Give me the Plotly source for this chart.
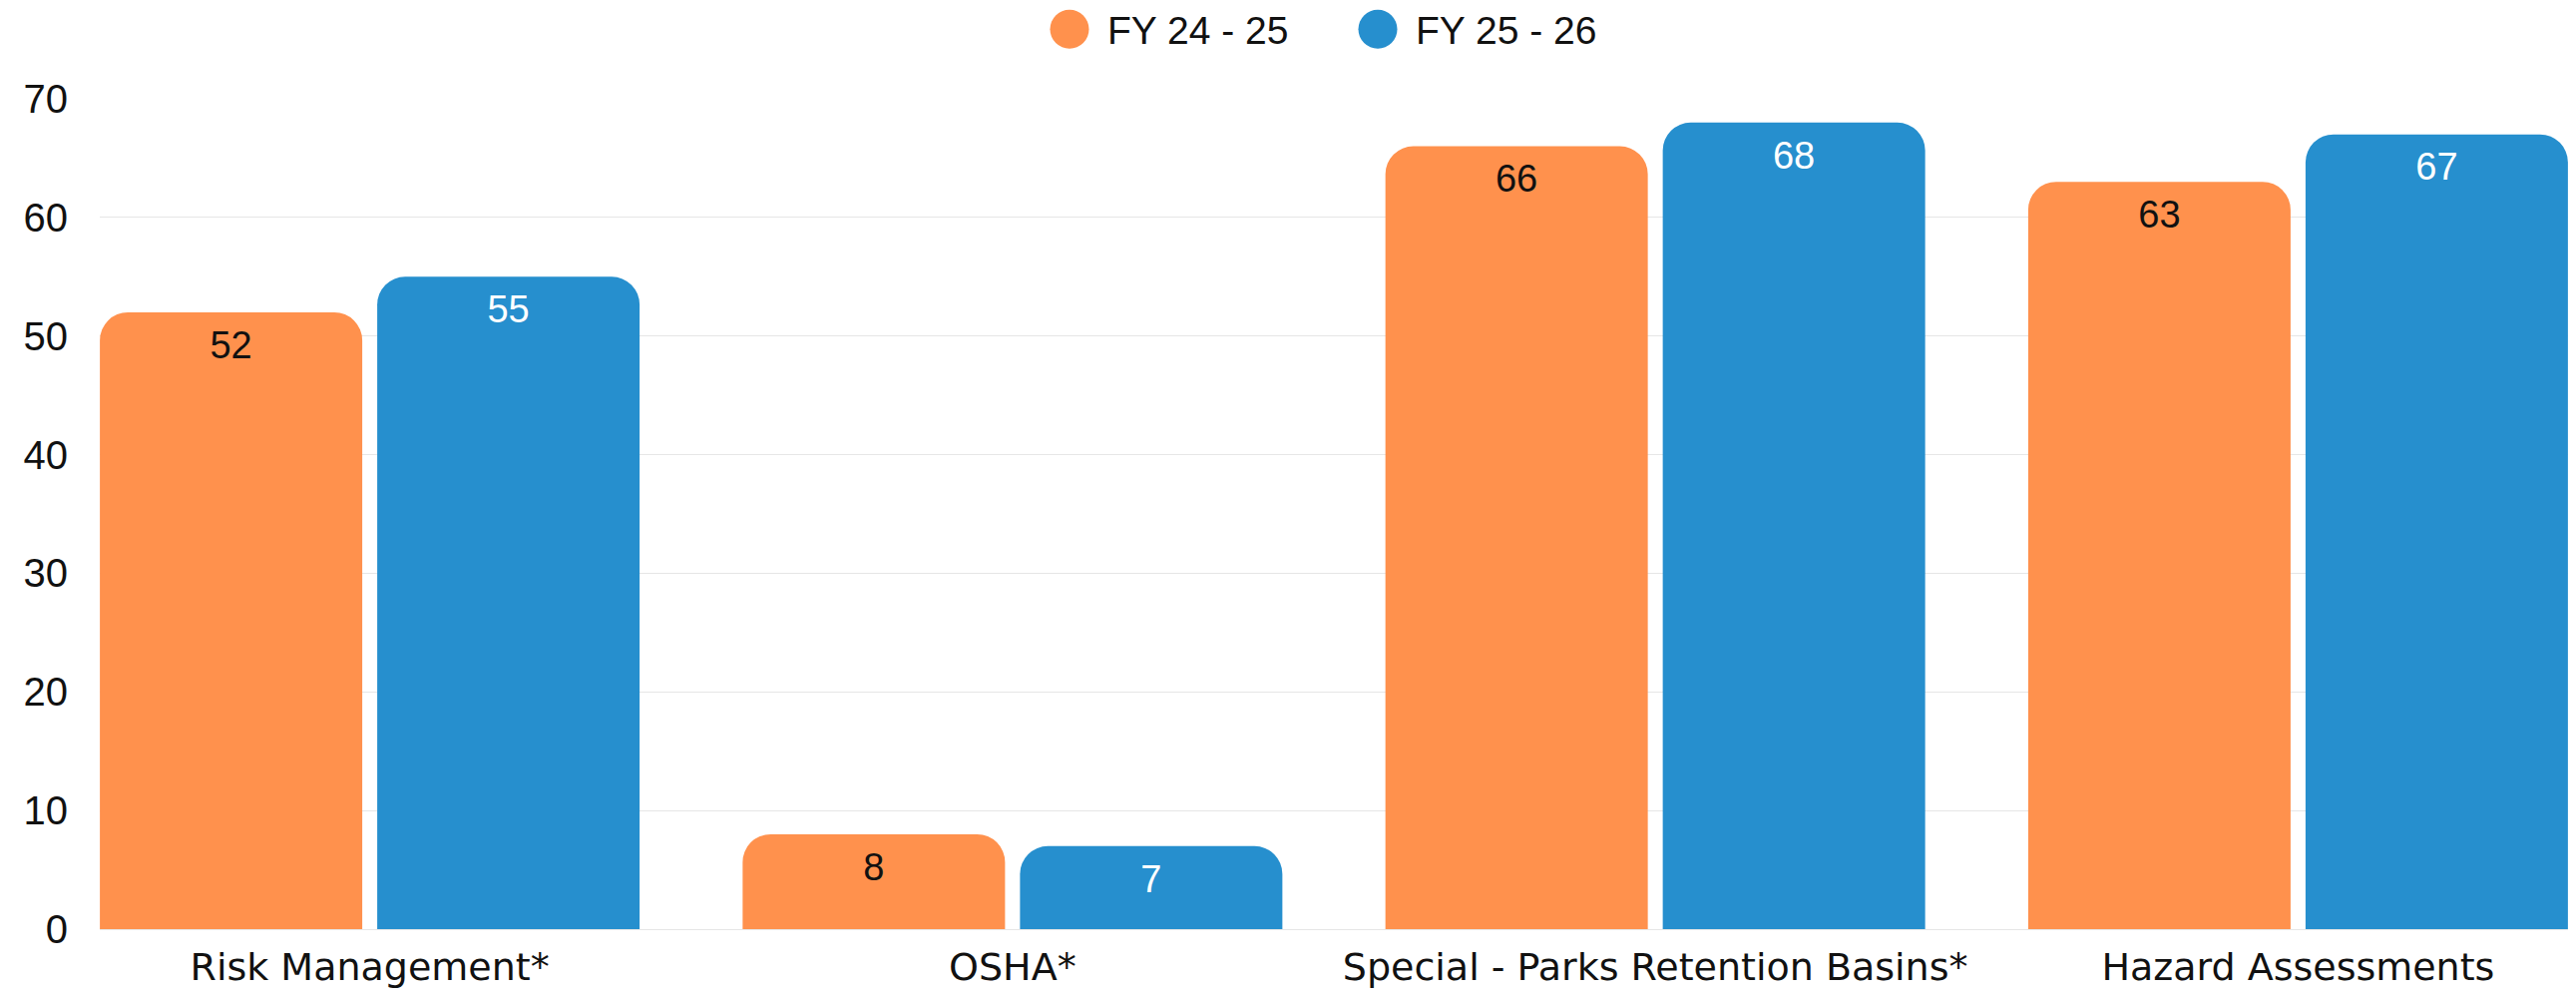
import plotly.graph_objects as go

categories = ["Risk Management*", "OSHA*", "Special - Parks Retention Basins*", "Hazard Assessments"]
series_names = ["FY 24 - 25", "FY 25 - 26"]
fy_24_25 = [52, 8, 66, 63]
fy_25_26 = [55, 7, 68, 67]
y_ticks = [0, 10, 20, 30, 40, 50, 60, 70]

ORANGE = "#FF914D"
BLUE = "#268FCE"
LABEL_COLORS = ["#111111", "#ffffff"]

# page body has an 8px margin; size the figure so the plot lands where the reference has it
BODY = 8
W, H = 2582 - 2 * BODY, 999 - 2 * BODY
ML, MR, MT, MB = 92, 0, 91, 56
PW, PH = W - ML - MR, H - MT - MB

BARGAP = 0.137
BARGROUPGAP = 0.054

fig = go.Figure()
for name, vals, col, grp in [(series_names[0], fy_24_25, ORANGE, "a"),
                             (series_names[1], fy_25_26, BLUE, "b")]:
    fig.add_trace(go.Bar(
        x=categories, y=vals, name=name, offsetgroup=grp, alignmentgroup="g",
        marker=dict(color=col, cornerradius=28, line=dict(width=0)),
        showlegend=False, hoverinfo="x+y+name",
    ))

# value labels, grouped so they sit centred on their bars
for name, vals, tcol, grp in [(series_names[0], fy_24_25, LABEL_COLORS[0], "a"),
                              (series_names[1], fy_25_26, LABEL_COLORS[1], "b")]:
    fig.add_trace(go.Scatter(
        x=categories, y=vals, name=name, offsetgroup=grp, alignmentgroup="g",
        mode="markers+text", text=[str(v) for v in vals], textposition="bottom center",
        marker=dict(size=26, opacity=0),
        textfont=dict(family="Liberation Sans, Arial, sans-serif", size=38, color=tcol),
        showlegend=False, hoverinfo="skip", cliponaxis=False,
    ))

# legend drawn as circles + labels
def px_to_paper(px, py):
    return (px - BODY - ML) / PW, (H + BODY - MB - py) / PH

leg_items = [(series_names[0], ORANGE, 1072, 1108), (series_names[1], BLUE, 1381, 1417)]
for name, col, cx, tx in leg_items:
    ax, ay = px_to_paper(cx, 29)
    fig.add_shape(type="circle", xref="paper", yref="paper",
                  xsizemode="pixel", ysizemode="pixel",
                  xanchor=ax, yanchor=ay, x0=-19.5, x1=19.5, y0=-19.5, y1=19.5,
                  fillcolor=col, line=dict(width=0))
    lx, ly = px_to_paper(tx, 30)
    fig.add_annotation(text=name, xref="paper", yref="paper", x=lx, y=ly,
                       xanchor="left", yanchor="middle", showarrow=False,
                       font=dict(family="Liberation Sans, Arial, sans-serif", size=39, color="#111111"))

fig.update_layout(
    width=W, height=H,
    margin=dict(l=ML, r=MR, t=MT, b=MB, pad=0),
    paper_bgcolor="white", plot_bgcolor="white",
    barmode="group", bargap=BARGAP, bargroupgap=BARGROUPGAP,
    scattermode="group", scattergap=BARGAP,
    showlegend=False,
)
fig.update_xaxes(
    type="category", range=[-0.42, 3.42],
    showgrid=False, showline=False, ticks="",
    tickfont=dict(family="DejaVu Sans, sans-serif", size=38, color="#111111"),
    ticklabelstandoff=12,
)
fig.update_yaxes(
    range=[0, 70], tickvals=y_ticks,
    showgrid=True, gridcolor="#e6e6e6", gridwidth=1,
    zeroline=True, zerolinecolor="#e6e6e6", zerolinewidth=1,
    showline=False, ticks="",
    tickfont=dict(family="Liberation Sans, Arial, sans-serif", size=40, color="#111111"),
    ticklabelstandoff=31,
)

fig.write_html("out.html")
